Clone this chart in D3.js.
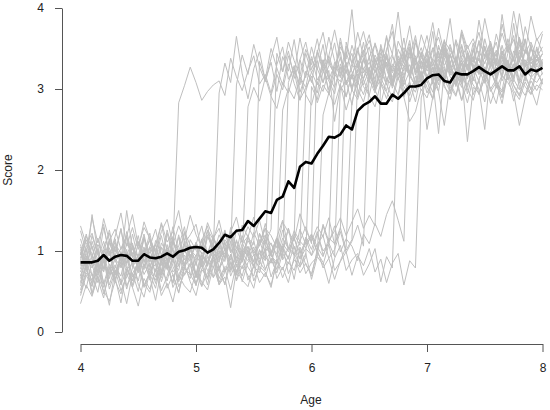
<!DOCTYPE html>
<html><head><meta charset="utf-8">
<script src="https://cdn.jsdelivr.net/npm/d3@7"></script>
<style>
html,body{margin:0;padding:0;background:#fff;}
svg{display:block;font-family:"Liberation Sans",Arial,Helvetica,sans-serif;}
</style></head>
<body><svg id="chart" width="550" height="410"></svg>
<script>
const ages = [4.00,4.05,4.10,4.15,4.20,4.25,4.30,4.35,4.40,4.45,
4.50,4.55,4.60,4.65,4.70,4.75,4.80,4.85,4.90,4.95,
5.00,5.05,5.10,5.15,5.20,5.25,5.30,5.35,5.40,5.45,
5.50,5.55,5.60,5.65,5.70,5.75,5.80,5.85,5.90,5.95,
6.00,6.05,6.10,6.15,6.20,6.25,6.30,6.35,6.40,6.45,
6.50,6.55,6.60,6.65,6.70,6.75,6.80,6.85,6.90,6.95,
7.00,7.05,7.10,7.15,7.20,7.25,7.30,7.35,7.40,7.45,
7.50,7.55,7.60,7.65,7.70,7.75,7.80,7.85,7.90,7.95,8.00];

const meanScore = [0.86,0.86,0.86,0.88,0.95,0.88,0.93,0.95,0.94,0.88,
0.88,0.96,0.92,0.91,0.93,0.97,0.93,0.99,1.01,1.04,
1.05,1.04,0.98,1.02,1.10,1.20,1.17,1.25,1.26,1.37,
1.31,1.40,1.49,1.47,1.63,1.67,1.86,1.78,2.04,2.10,
2.08,2.20,2.30,2.41,2.40,2.44,2.55,2.50,2.73,2.80,
2.84,2.91,2.82,2.82,2.93,2.88,2.95,3.03,3.03,3.05,
3.13,3.17,3.18,3.10,3.08,3.20,3.18,3.18,3.22,3.27,
3.22,3.18,3.23,3.28,3.23,3.23,3.28,3.18,3.24,3.22,3.26];

const trajectories = [
[0.95,1.21,0.88,1.02,0.74,1.10,0.93,1.28,0.85,0.97, 1.12,0.80,1.05,0.91,1.19,0.87,1.03,2.83,3.04,3.27, 3.08,2.86,2.97,3.05,3.10,2.92,3.38,3.15,2.98,3.22, 3.41,3.06,3.18,2.95,3.30,3.52,3.12,3.26,3.05,3.44, 3.20,3.35,3.08,3.29,3.57,3.16,3.33,3.02,3.24,3.48, 3.11,3.36,3.22,3.05,3.40,3.28,3.63,3.19,3.31,3.09, 3.45,3.24,3.37,3.14,3.52,3.29,3.06,3.41,3.33,3.58, 3.21,3.38,3.12,3.47,3.30,3.25,3.61,3.18,3.40,3.27, 3.35],
[0.62,0.85,0.48,0.77,0.93,0.58,0.81,0.69,1.02,0.55, 0.78,0.90,0.64,0.99,0.73,0.86,0.60,0.92,0.81,1.07, 0.70,0.95,0.84,1.01,2.95,3.32,3.08,3.65,3.19,2.88, 3.25,3.46,3.10,3.33,2.97,3.40,3.22,3.61,3.15,3.02, 3.37,3.24,3.55,3.12,3.29,3.46,3.05,3.31,3.20,3.58, 3.14,3.42,3.27,3.66,3.08,3.35,3.22,3.49,3.17,3.39, 3.26,3.71,3.12,3.44,3.30,3.05,3.53,3.28,3.40,3.19, 3.62,3.33,3.15,3.47,3.24,3.81,3.36,3.10,3.52,3.29, 3.44],
[1.08,0.83,1.45,0.97,0.79,1.15,1.01,0.88,1.24,0.92, 1.19,0.86,1.05,1.27,0.94,0.81,1.13,0.99,1.22,0.90, 1.08,1.31,0.95,1.17,1.02,1.26,0.98,3.05,3.42,3.18, 3.55,3.27,3.09,3.38,3.64,3.21,3.47,3.13,3.36,3.58, 3.24,3.45,3.70,3.31,3.19,3.52,3.37,3.98,3.26,3.43, 3.60,3.35,3.22,3.49,3.71,3.30,3.46,3.18,3.57,3.39, 3.66,3.28,3.51,3.42,3.87,3.33,3.55,3.24,3.48,3.70, 3.37,3.59,3.29,3.92,3.45,3.61,3.34,3.77,3.50,3.41, 3.68],
[0.71,0.54,0.88,0.66,0.42,0.79,0.61,0.95,0.57,0.73, 0.50,0.84,0.68,0.39,0.77,0.63,0.91,0.56,0.72,0.85, 0.60,0.78,0.93,0.67,0.81,0.58,0.96,0.74,0.88,2.78, 3.02,2.85,3.14,2.91,2.76,3.08,2.95,3.22,2.87,3.01, 3.16,2.83,3.05,2.94,3.27,2.99,3.11,2.80,3.19,3.03, 2.92,3.24,3.07,2.88,3.15,3.31,2.96,3.09,2.84,3.20, 2.50,2.90,3.28,3.12,2.97,3.18,2.86,3.06,3.23,2.93, 3.14,3.01,2.82,3.17,3.08,2.95,2.55,2.89,3.10,2.98, 3.12],
[0.88,1.14,0.96,0.73,1.05,1.22,0.90,0.81,1.09,0.97, 0.78,1.17,0.92,1.03,0.85,1.26,0.99,0.87,1.12,0.94, 1.06,0.83,1.20,0.98,1.11,0.91,1.29,1.04,0.95,1.16, 1.08,3.34,3.12,3.50,3.26,3.05,3.41,3.19,3.63,3.30, 3.08,3.46,3.22,3.37,3.15,3.58,3.28,3.44,3.11,3.35, 3.52,3.20,3.40,3.27,3.06,3.49,3.33,3.17,3.61,3.25, 3.38,3.13,3.54,3.29,3.42,3.21,3.68,3.36,3.10,3.47, 3.31,3.56,3.23,3.45,3.18,3.39,3.64,3.27,3.50,3.34, 3.43],
[0.52,0.76,0.64,0.89,0.47,0.70,0.83,0.59,0.98,0.68, 0.81,0.55,0.74,0.93,0.62,0.86,0.71,0.49,0.79,0.96, 0.67,0.84,0.58,0.92,0.75,1.04,0.69,0.87,0.78,1.01, 0.82,0.97,0.88,2.92,3.18,2.99,3.31,3.07,2.86,3.22, 3.10,2.95,3.36,3.14,3.02,3.27,2.90,3.19,3.33,3.05, 3.24,2.98,3.13,3.40,3.08,2.93,3.29,3.16,3.04,3.35, 3.11,3.26,2.97,3.38,3.15,3.07,3.32,2.94,3.20,3.43, 3.09,3.28,3.01,3.17,3.36,3.12,2.99,3.30,3.14,3.22, 3.06],
[1.25,0.98,1.41,1.10,1.33,0.94,1.18,1.47,1.06,1.29, 1.02,1.36,1.15,0.97,1.24,1.39,1.08,1.31,1.13,1.44, 1.20,1.05,1.35,1.16,1.28,1.00,1.23,1.42,1.11,1.30, 1.17,1.38,1.09,1.27,3.44,3.21,3.58,3.35,3.16,3.49, 3.30,3.62,3.25,3.41,3.73,3.38,3.19,3.54,3.32,3.46, 3.67,3.28,3.50,3.37,3.22,3.59,3.43,3.78,3.34,3.51, 3.26,3.48,3.64,3.39,3.55,3.31,3.70,3.45,3.27,3.60, 3.41,3.57,3.33,3.80,3.49,3.36,3.63,3.44,3.58,3.39, 3.52],
[0.35,0.58,0.44,0.69,0.51,0.38,0.63,0.47,0.72,0.55, 0.32,0.66,0.53,0.78,0.45,0.60,0.37,0.70,0.57,0.49, 0.74,0.62,0.52,0.81,0.59,0.68,0.30,0.77,0.64,0.56, 0.83,0.61,0.73,0.58,0.87,2.74,3.01,2.88,3.15,2.93, 2.80,3.09,2.97,3.23,2.60,3.04,2.91,3.18,3.00,2.84, 3.12,2.95,3.27,3.06,2.89,3.20,3.03,2.92,3.16,2.98, 3.10,2.87,3.25,3.02,2.94,3.19,3.07,2.83,3.14,3.00, 2.50,3.22,3.05,2.96,3.17,2.85,3.11,3.03,2.93,3.21, 3.08],
[0.97,0.82,1.06,0.75,0.91,1.13,0.86,0.99,0.72,1.08, 0.90,1.17,0.80,0.96,1.04,0.77,1.11,0.93,0.84,1.02, 0.88,1.15,0.95,0.79,1.07,0.92,1.19,0.85,1.01,0.94, 1.12,0.87,1.03,0.98,1.16,0.91,3.08,3.29,2.96,3.17, 3.40,3.11,3.25,2.99,3.33,3.14,3.46,3.21,3.05,3.37, 3.18,3.28,3.50,3.09,3.31,3.22,3.43,3.13,3.35,3.26, 3.47,3.16,3.30,3.54,3.20,3.39,3.10,3.44,3.27,3.36, 3.19,3.51,3.24,3.41,3.32,3.15,3.48,3.29,3.38,3.23, 3.34],
[0.78,1.03,0.69,0.90,1.12,0.81,0.64,0.97,0.85,1.07, 0.73,0.94,1.15,0.83,0.70,1.01,0.88,0.76,1.09,0.92, 0.67,0.95,0.84,1.10,0.79,0.98,0.87,0.72,1.05,0.93, 0.80,1.14,0.89,0.99,0.77,1.06,0.91,1.18,3.36,3.14, 3.52,3.25,3.08,3.41,3.19,3.63,3.30,3.12,3.47,3.24, 3.39,3.06,3.55,3.28,3.43,3.17,3.34,3.60,3.21,3.45, 3.13,3.37,3.26,3.58,3.32,3.09,3.48,3.23,3.40,3.18, 3.53,3.29,3.44,3.16,3.62,3.35,3.22,3.49,3.31,3.40, 3.27],
[1.15,0.92,0.84,1.08,0.97,1.26,0.89,1.03,1.19,0.80, 1.10,0.95,1.22,0.87,1.05,0.93,1.30,0.99,0.82,1.14, 1.01,0.88,1.17,1.06,0.91,1.24,0.98,1.12,0.86,1.20, 0.97,1.09,1.28,0.94,1.15,1.03,0.90,1.21,1.07,2.97, 3.21,3.05,3.36,2.93,3.18,3.09,3.30,2.99,3.24,3.12, 3.41,3.03,3.20,3.33,3.08,3.27,3.15,3.45,3.01,3.23, 3.35,3.11,3.28,3.06,3.44,3.19,3.31,3.02,3.26,3.38, 3.14,3.29,3.48,3.10,3.25,3.37,3.07,3.32,3.20,3.42, 3.18],
[0.60,0.82,0.71,0.49,0.88,0.66,0.93,0.58,0.77,0.85, 0.63,0.95,0.72,0.54,0.87,0.79,0.61,0.98,0.70,0.83, 0.57,0.91,0.76,0.68,1.00,0.74,0.86,0.65,0.94,0.80, 0.69,1.02,0.78,0.90,0.73,0.97,0.84,1.06,0.81,0.92, 3.03,2.87,3.22,3.10,2.94,3.31,3.05,3.17,2.90,3.26, 3.08,3.38,3.14,2.98,3.29,3.11,3.42,3.20,3.02,3.34, 3.16,3.27,3.05,3.45,3.21,3.09,3.36,3.13,3.50,3.24, 3.07,3.32,3.19,3.40,3.11,3.28,3.55,3.23,3.15,3.37, 3.25],
[0.91,1.18,1.05,0.83,1.29,0.97,1.11,0.88,1.50,1.02, 0.94,1.21,0.86,1.08,1.33,0.99,1.15,0.90,1.24,1.07, 0.82,1.13,1.31,0.96,1.20,1.04,0.89,1.27,1.10,0.95, 1.23,1.06,1.34,0.98,1.17,1.38,1.03,1.25,1.12,1.30, 1.09,3.48,3.26,3.64,3.35,3.19,3.53,3.31,3.70,3.40, 3.22,3.57,3.34,3.46,3.80,3.29,3.51,3.38,3.66,3.25, 3.49,3.36,3.75,3.43,3.28,3.61,3.39,3.54,3.33,3.85, 3.47,3.30,3.68,3.42,3.56,3.37,3.93,3.50,3.35,3.63, 3.45],
[0.45,0.70,0.56,0.83,0.62,0.33,0.77,0.51,0.68,0.87, 0.59,0.43,0.75,0.64,0.92,0.54,0.71,0.48,0.80,0.66, 0.88,0.57,0.73,0.95,0.61,0.79,0.52,0.84,0.69,0.98, 0.63,0.81,0.74,0.55,0.90,0.67,0.86,0.76,1.01,0.72, 0.85,0.93,2.68,2.95,2.81,3.06,2.74,2.99,2.87,3.12, 2.92,2.78,3.08,2.96,2.84,3.15,2.90,2.60,2.72,3.00, 2.89,3.11,2.97,2.55,3.07,2.93,3.19,2.35,3.02,2.95, 3.13,2.82,3.04,2.91,3.20,2.98,2.87,3.09,2.94,3.05, 2.99],
[1.02,0.79,0.94,1.16,0.87,0.72,1.08,0.98,0.83,1.21, 0.90,1.05,0.76,1.13,0.96,0.85,1.18,0.81,1.00,0.92, 1.10,0.84,1.25,0.97,0.88,1.14,1.03,0.91,1.19,0.99, 0.86,1.22,1.07,0.95,1.15,1.01,1.28,0.93,1.12,1.04, 1.20,0.97,1.31,1.09,3.17,3.39,3.08,3.26,3.51,3.20, 3.33,3.12,3.45,3.24,3.04,3.37,3.28,3.56,3.19,3.30, 3.42,3.15,3.34,3.61,3.23,3.40,3.10,3.47,3.29,3.18, 3.52,3.27,3.38,3.14,3.44,3.66,3.25,3.36,3.21,3.49, 3.31],
[0.74,0.97,0.83,0.61,0.89,1.04,0.70,0.92,0.79,0.58, 0.86,1.01,0.67,0.93,0.76,1.08,0.81,0.64,0.95,0.87, 0.72,0.99,0.84,1.06,0.78,0.91,1.12,0.80,0.96,0.88, 1.05,0.83,1.14,0.94,0.86,1.09,0.99,1.17,0.90,1.03, 0.95,1.21,1.00,1.10,0.93,3.06,3.24,2.98,3.35,3.13, 3.27,3.01,3.19,3.43,3.10,3.32,3.05,3.22,3.38,3.15, 3.29,3.07,3.46,3.18,3.34,3.03,3.25,3.41,3.12,3.30, 3.20,3.49,3.09,3.36,3.23,3.14,3.40,3.27,3.55,3.17, 3.33],
[1.31,1.08,1.22,0.96,1.40,1.13,1.27,1.02,1.18,1.45, 1.06,1.29,1.16,0.99,1.35,1.11,1.24,1.50,1.09,1.20, 1.33,1.01,1.26,1.14,1.38,1.07,1.21,0.98,1.32,1.17, 1.42,1.10,1.28,1.19,1.04,1.36,1.23,1.13,1.46,1.25, 1.12,1.30,1.18,1.41,1.08,1.27,3.58,3.32,3.47,3.71, 3.39,3.55,3.26,3.64,3.43,3.95,3.35,3.52,3.30,3.67, 3.45,3.82,3.38,3.59,3.48,3.33,3.73,3.50,3.62,3.41, 3.87,3.53,3.40,3.69,3.46,3.96,3.57,3.44,3.90,3.60, 3.71],
[0.57,0.81,0.46,0.69,0.90,0.53,0.75,0.64,0.35,0.72, 0.86,0.60,0.49,0.78,0.67,0.92,0.55,0.71,0.84,0.62, 0.45,0.77,0.68,0.89,0.58,0.74,0.96,0.63,0.82,0.70, 0.54,0.87,0.76,0.99,0.66,0.80,0.61,0.93,0.73,0.85, 0.69,1.02,0.79,0.91,0.65,0.88,1.05,2.85,3.09,2.93, 3.18,2.99,2.81,3.13,3.04,3.26,2.90,3.07,2.96,3.21, 3.02,2.88,3.15,3.28,2.97,3.10,2.86,3.19,3.05,2.94, 3.23,3.00,3.12,2.89,3.17,3.31,3.03,2.92,3.14,3.08, 3.20],
[0.99,0.76,1.12,0.88,0.95,0.71,1.06,0.84,1.17,0.93, 0.80,1.03,0.91,0.74,1.10,0.97,0.86,1.20,0.89,1.01, 0.94,1.14,0.82,1.07,0.99,0.87,1.23,1.04,0.92,1.13, 1.00,0.90,1.18,1.08,0.96,1.26,1.02,1.15,0.98,1.11, 1.21,1.05,0.93,1.16,1.09,1.29,1.01,1.14,3.15,3.38, 3.11,3.29,3.02,3.44,3.20,3.33,3.08,3.50,3.24,3.16, 3.36,3.21,3.47,3.13,3.30,3.58,3.19,3.40,3.27,3.09, 3.43,3.32,3.18,3.54,3.26,3.39,3.11,3.48,3.34,3.22, 3.37],
[0.66,0.91,0.79,1.03,0.59,0.84,0.72,0.96,0.81,0.63, 0.90,0.77,1.05,0.68,0.87,0.99,0.74,0.83,1.08,0.70, 0.95,0.82,0.65,0.98,0.86,1.11,0.76,0.93,0.88,1.06, 0.79,1.01,0.92,0.85,1.13,0.89,1.04,0.97,0.83,1.15, 0.94,1.08,1.19,0.91,1.02,1.24,0.98,1.12,1.32,1.06, 3.25,2.98,3.36,3.12,3.04,3.41,3.17,3.30,3.08,3.46, 3.22,3.35,3.10,3.51,3.28,3.15,3.39,3.24,3.57,3.19, 3.33,3.45,3.14,3.29,3.53,3.21,3.38,3.62,3.26,3.42, 3.30],
[0.82,1.07,0.94,0.70,1.01,0.88,1.15,0.79,0.96,1.10, 0.75,0.98,1.13,0.86,0.72,1.04,0.91,1.17,0.83,0.99, 1.08,0.80,0.97,1.19,0.89,1.02,0.78,1.14,0.93,1.05, 0.87,1.21,0.99,1.10,0.92,1.16,1.03,0.95,1.27,1.08, 1.18,1.00,1.33,1.12,1.25,1.41,1.19,1.36,1.52,1.28, 1.44,1.31,3.10,3.33,3.01,3.27,3.46,3.14,3.37,3.06, 3.29,3.51,3.20,3.08,3.42,3.23,3.35,3.13,3.48,3.26, 3.16,3.40,3.58,3.22,3.31,3.09,3.45,3.34,3.19,3.52, 3.28],
[0.48,0.73,0.61,0.86,0.55,0.80,0.67,0.36,0.78,0.63, 0.90,0.57,0.74,0.84,0.51,0.69,0.95,0.62,0.79,0.71, 0.58,0.88,0.66,0.93,0.75,0.60,0.85,0.70,0.99,0.64, 0.81,0.73,1.02,0.68,0.87,0.77,0.94,0.65,1.05,0.83, 0.72,0.98,0.86,0.60,0.91,1.07,0.76,0.89,0.97,0.70, 0.84,1.03,0.62,0.93,0.79,2.92,3.16,2.84,3.07,3.22, 2.95,3.11,2.45,3.25,3.03,2.91,3.18,3.00,2.86,3.13, 3.27,2.97,3.08,2.82,3.20,3.05,2.93,3.15,2.99,3.24, 3.06],
[1.05,0.86,1.19,0.95,0.78,1.12,0.99,1.27,0.90,1.03, 0.84,1.16,0.97,1.08,0.82,1.22,0.93,1.06,1.30,0.89, 1.11,0.96,0.81,1.14,1.01,0.92,1.25,0.87,1.09,1.18, 0.94,1.07,1.20,0.85,1.13,0.98,1.28,1.04,0.91,1.17, 1.02,1.24,0.95,1.10,1.31,0.99,1.15,1.06,0.88,1.21, 1.09,1.34,1.18,1.45,1.62,1.38,1.12,3.20,3.41,3.13, 3.35,3.06,3.28,3.49,3.17,3.32,3.09,3.44,3.24,3.38, 3.12,3.55,3.29,3.40,3.19,3.47,3.33,3.61,3.23,3.36, 3.43],
[0.69,0.94,0.58,0.83,0.75,1.00,0.64,0.87,0.53,0.79, 0.96,0.71,0.85,0.60,0.92,0.78,1.04,0.67,0.82,0.90, 0.73,0.56,0.88,0.98,0.66,0.81,0.74,1.01,0.62,0.86, 0.95,0.77,0.68,0.91,0.84,1.06,0.72,0.89,0.80,0.97, 0.65,0.93,0.83,1.08,0.76,0.87,0.99,0.70,0.94,0.82, 1.03,0.74,0.90,0.61,0.85,0.97,0.58,0.88,0.79,2.89, 3.14,2.96,3.27,3.05,2.87,3.19,3.02,3.31,2.93,3.10, 2.84,3.22,3.08,2.98,3.35,3.04,2.91,3.17,3.00,2.80, 3.13]
];

const xTicks = [4, 5, 6, 7, 8];
const yTicks = [0, 1, 2, 3, 4];
const xLabel = "Age";
const yLabel = "Score";

const svg = d3.select("#chart");
const x = d3.scaleLinear().domain([4, 8]).range([80.5, 542.5]);
const y = d3.scaleLinear().domain([0, 4]).range([332, 8]);

const line = d3.line()
  .x((d, i) => x(ages[i]))
  .y(d => y(d));

svg.append("g").selectAll("path")
  .data(trajectories)
  .join("path")
  .attr("d", line)
  .attr("fill", "none")
  .attr("stroke", "#bfbfbf")
  .attr("stroke-width", 1)
  .attr("stroke-linejoin", "round");

svg.append("path")
  .datum(meanScore)
  .attr("d", line)
  .attr("fill", "none")
  .attr("stroke", "#000")
  .attr("stroke-width", 2.6)
  .attr("stroke-linejoin", "round");

const gx = svg.append("g")
  .attr("transform", "translate(0,344)")
  .call(d3.axisBottom(x).tickValues(xTicks).tickFormat(d3.format("d"))
    .tickSize(8).tickSizeOuter(0).tickPadding(11));
const gy = svg.append("g")
  .attr("transform", "translate(62,0)")
  .call(d3.axisLeft(y).tickValues(yTicks).tickFormat(d3.format("d"))
    .tickSize(7).tickSizeOuter(0).tickPadding(11));

[gx, gy].forEach(g => {
  g.select(".domain").attr("stroke", "#555");
  g.selectAll(".tick line").attr("stroke", "#555");
  g.selectAll(".tick text").attr("fill", "#222")
    .style("font-size", "12px")
    .style("font-family", "'Liberation Sans', Arial, sans-serif");
});

svg.append("text")
  .attr("x", 311).attr("y", 404)
  .attr("text-anchor", "middle")
  .attr("fill", "#222")
  .style("font-size", "12px")
  .text(xLabel);

svg.append("text")
  .attr("transform", "translate(12,170) rotate(-90)")
  .attr("text-anchor", "middle")
  .attr("fill", "#222")
  .style("font-size", "12px")
  .text(yLabel);
</script>
</body></html>
